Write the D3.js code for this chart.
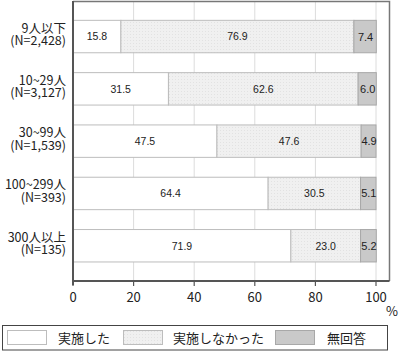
<!DOCTYPE html>
<html><head><meta charset="utf-8">
<script src="https://cdn.jsdelivr.net/npm/d3@7"></script>
<style>body{margin:0;background:#fff}svg{display:block;font-family:"Noto Sans CJK JP","Noto Sans",sans-serif}</style>
</head><body><svg id="c" width="400" height="352"></svg>
<script>
const categories = ["9人以下", "10~29人", "30~99人", "100~299人", "300人以上"];
const counts = ["(N=2,428)", "(N=3,127)", "(N=1,539)", "(N=393)", "(N=135)"];
const seriesNames = ["実施した", "実施しなかった", "無回答"];
const implemented = [15.8, 31.5, 47.5, 64.4, 71.9];
const notImplemented = [76.9, 62.6, 47.6, 30.5, 23.0];
const noAnswer = [7.4, 6.0, 4.9, 5.1, 5.2];
const xTicks = [0, 20, 40, 60, 80, 100];

(function(){
const svg = d3.select("#c");
const defs = svg.append("defs");
const pat = defs.append("pattern").attr("id","dots").attr("width",3).attr("height",3).attr("patternUnits","userSpaceOnUse");
pat.append("rect").attr("width",3).attr("height",3).attr("fill","#f0f0f0");
pat.append("rect").attr("x",1).attr("y",1).attr("width",1).attr("height",1).attr("fill","#e2e2e2");

const colors = ["#ffffff", "url(#dots)", "#c9c9c9"];
const strokes = ["#bdbdbd", "#bdbdbd", "#a8a8a8"];

const pL = 73, pR = 389, pT = 1, pB = 281;
const x = d3.scaleLinear().domain([0, 100]).range([73, 376]);
const y = d3.scaleBand().domain(categories).range([10.4, 271.9]).paddingInner(0.38).paddingOuter(0.19);

svg.append("g").selectAll("line").data(xTicks.slice(1)).join("line")
  .attr("x1", d => x(d)).attr("x2", d => x(d)).attr("y1", pT).attr("y2", pB)
  .attr("stroke", "#dcdcdc").attr("stroke-width", 1);

svg.append("path").attr("d", `M${pL},${pT+0.5}H${pR+0.5}V${pB}`)
  .attr("fill","none").attr("stroke","#777").attr("stroke-width",1.5);

const series = [implemented, notImplemented, noAnswer];
const rows = categories.map((c, i) => {
  let acc = 0;
  return series.map((s, k) => { const v = s[i]; const r = {c, k, x0: acc, x1: acc + v, v}; acc += v; return r; });
});

const g = svg.append("g");
rows.forEach(row => {
  row.forEach(d => {
    g.append("rect")
      .attr("x", x(d.x0)).attr("y", y(d.c))
      .attr("width", x(d.x1) - x(d.x0)).attr("height", y.bandwidth())
      .attr("fill", colors[d.k]).attr("stroke", strokes[d.k]).attr("stroke-width", 1);
  });
  row.forEach(d => {
    g.append("text")
      .attr("x", (x(d.x0) + x(d.x1)) / 2 + (d.k === 2 ? 0.5 : 0))
      .attr("y", y(d.c) + y.bandwidth() / 2)
      .attr("dy", "0.36em").attr("text-anchor", "middle")
      .attr("font-size", d.k === 2 ? 11 : 10.5).attr("fill", "#222")
      .attr("font-family", "Arial, 'Liberation Sans', sans-serif")
      .text(d.v.toFixed(1));
  });
});

categories.forEach((c, i) => {
  const cy = y(c) + y.bandwidth() / 2;
  svg.append("text").attr("text-anchor", "end").attr("font-size", 12.5).attr("fill", "#222")
    .attr("x", 66).attr("y", cy - 4).text(c);
  svg.append("text").attr("text-anchor", "end").attr("font-size", 12.5).attr("fill", "#222")
    .attr("x", 66).attr("y", cy + 8.5).text(counts[i]);
});

svg.append("line").attr("x1", pL).attr("x2", pR + 0.5).attr("y1", pB).attr("y2", pB)
  .attr("stroke", "#555").attr("stroke-width", 2);
svg.append("line").attr("x1", pL).attr("x2", pL).attr("y1", pT).attr("y2", pB + 4)
  .attr("stroke", "#555").attr("stroke-width", 2);
const ax = svg.append("g");
xTicks.forEach(t => {
  ax.append("line").attr("x1", x(t)).attr("x2", x(t)).attr("y1", pB).attr("y2", pB + 5).attr("stroke", "#555").attr("stroke-width", 1.2);
  ax.append("text").attr("x", x(t)).attr("y", pB + 20.5).attr("text-anchor", "middle")
    .attr("font-size", 13).attr("fill", "#222").text(t);
});
svg.append("text").attr("x", 392).attr("y", 316).attr("text-anchor", "middle").attr("font-size", 13).attr("fill", "#222").text("%");

svg.append("rect").attr("x", 2.5).attr("y", 325.5).attr("width", 385).attr("height", 24.5)
  .attr("fill", "#fff").attr("stroke", "#444").attr("stroke-width", 1);
const legX = [7, 123, 275];
const legT = [58, 173, 327];
seriesNames.forEach((n, k) => {
  svg.append("rect").attr("x", legX[k] + 0.5).attr("y", 330.5).attr("width", 39).attr("height", 14)
    .attr("fill", colors[k]).attr("stroke", strokes[k]);
  svg.append("text").attr("x", legT[k]).attr("y", 342.5).attr("font-size", 13).attr("fill", "#222").text(n);
});
})();
</script></body></html>
